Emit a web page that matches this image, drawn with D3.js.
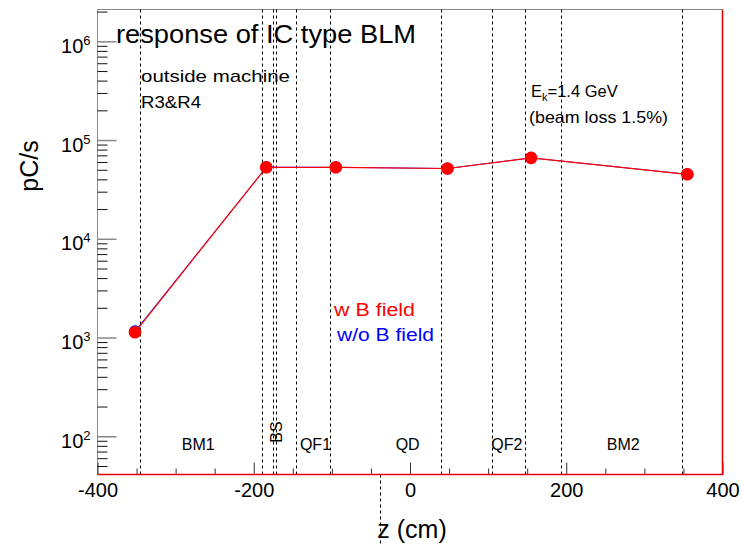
<!doctype html>
<html>
    <head>
        <meta charset="utf-8">
        <title>IC type BLM response</title>
        <script src="https://d3js.org/d3.v7.min.js"></script>
        <style>
            body { margin: 0; background: #fff; }
            text { font-family: "Liberation Sans", Arial, sans-serif; }
        </style>
    </head>

    <body>
        <script>

            // measured points along the beam line
            var zPos = [-352, -184, -95, 48, 155, 355];
            var withField = [1130, 53000, 53000, 51500, 66000, 45000];
            var withoutField = [1160, 53000, 53000, 51500, 66000, 45000];

            // magnet edges (dotted lines) and element names
            var edgePos = [-346, -190, -176, -171, -146, -103, 40, 105, 147, 193, 348];
            var regionNames = ["BM1", "BS", "QF1", "QD", "QF2", "BM2"];
            var regionPos = [-271, -172, -121, -3, 124, 273];

            var xMajor = [-400, -200, 0, 200, 400];
            var yDecades = [1e2, 1e3, 1e4, 1e5, 1e6];

            var width = 742;
            var height = 545;
            var pLeft = 97.5, pRight = 722.5, pTop = 9.5, pBottom = 474.5;

            var x = d3.scaleLinear()
                .domain([-400, 400])
                .range([pLeft, pRight]);

            var y = d3.scaleLog()
                .domain([41, 2.1e6])
                .range([pBottom, pTop]);

            var svg = d3.select("body")
                .append("svg")
                .attr("width", width)
                .attr("height", height);

            // frame: top/left grey, right/bottom red
            svg.append("path")
                .attr("d", "M" + pLeft + "," + pBottom + "V" + pTop + "H" + pRight)
                .attr("fill", "none")
                .attr("stroke", "#888");

            // dotted magnet edges
            svg.selectAll(".edge")
                .data(edgePos)
                .enter().append("line")
                .attr("class", "edge")
                .attr("x1", function(d) { return Math.round(x(d)) + 0.5; })
                .attr("x2", function(d) { return Math.round(x(d)) + 0.5; })
                .attr("y1", pTop)
                .attr("y2", pBottom)
                .attr("stroke", "#000")
                .attr("stroke-dasharray", "3,3");

            // odd dotted line hanging below the axis
            svg.append("line")
                .attr("x1", Math.round(x(-38)) + 0.5)
                .attr("x2", Math.round(x(-38)) + 0.5)
                .attr("y1", pBottom)
                .attr("y2", height)
                .attr("stroke", "#000")
                .attr("stroke-dasharray", "3,3");

            // x axis minor ticks every 50
            var xMinor = d3.range(-400, 401, 50).filter(function(d) { return d % 200 !== 0; });
            svg.append("g")
                .attr("transform", "translate(0," + pBottom + ")")
                .call(d3.axisBottom(x).tickValues(xMinor).tickSize(-6).tickFormat(""))
                .call(function(g) { g.select(".domain").remove(); })
                .selectAll("line").attr("stroke", "#333");

            var xAxis = svg.append("g")
                .attr("transform", "translate(0," + pBottom + ")")
                .call(d3.axisBottom(x).tickValues(xMajor).tickSize(-12).tickPadding(8)
                    .tickFormat(function(d) { return String(d); }));
            xAxis.select(".domain").remove();
            xAxis.selectAll("line").attr("stroke", "#333");
            xAxis.selectAll("text")
                .attr("font-family", "Liberation Sans, Arial, sans-serif")
                .attr("font-size", 20)
                .attr("fill", "#000");

            // y axis minor ticks 2..9 per decade
            var yMinor = [];
            [10, 100, 1000, 10000, 100000, 1000000].forEach(function(dec) {
                for (var k = 2; k <= 9; k++) {
                    var v = dec * k;
                    if (v >= y.domain()[0] && v <= y.domain()[1]) yMinor.push(v);
                }
            });
            svg.append("g")
                .attr("transform", "translate(" + pLeft + ",0)")
                .call(d3.axisLeft(y).tickValues(yMinor).tickSize(-10).tickFormat(""))
                .call(function(g) { g.select(".domain").remove(); })
                .selectAll("line").attr("stroke", "#111");

            var yAxis = svg.append("g")
                .attr("transform", "translate(" + pLeft + ",0)")
                .call(d3.axisLeft(y).tickValues(yDecades).tickSize(-19).tickPadding(7));
            yAxis.select(".domain").remove();
            yAxis.selectAll("line").attr("stroke", "#888").attr("stroke-width", 1.5);
            yAxis.selectAll("text")
                .attr("font-family", "Liberation Sans, Arial, sans-serif")
                .attr("font-size", 20)
                .attr("fill", "#000")
                .attr("dy", "0.55em")
                .each(function(d) {
                    var t = d3.select(this);
                    t.text("10");
                    t.append("tspan")
                        .attr("dy", -8)
                        .attr("font-size", 13)
                        .text(Math.round(Math.log10(d)));
                });

            // red bottom/right frame edges
            svg.append("path")
                .attr("d", "M" + pLeft + "," + pBottom + "H" + pRight + "V" + pTop)
                .attr("fill", "none")
                .attr("stroke", "#e00000")
                .attr("stroke-width", 1.5);

            // series: blue (w/o B field) under red (w B field)
            var line = d3.line()
                .x(function(d, i) { return x(zPos[i]); })
                .y(function(d) { return y(d); });

            svg.append("path")
                .datum(withoutField)
                .attr("d", line)
                .attr("fill", "none")
                .attr("stroke", "#0000ff")
                .attr("stroke-width", 0.8);

            svg.selectAll(".dotB")
                .data(withoutField)
                .enter().append("circle")
                .attr("class", "dotB")
                .attr("cx", function(d, i) { return x(zPos[i]); })
                .attr("cy", function(d) { return y(d); })
                .attr("r", 6)
                .attr("fill", "#0000ff");

            svg.append("path")
                .datum(withField)
                .attr("d", line)
                .attr("fill", "none")
                .attr("stroke", "#ff0000")
                .attr("stroke-width", 1.2);

            svg.selectAll(".dotR")
                .data(withField)
                .enter().append("circle")
                .attr("class", "dotR")
                .attr("cx", function(d, i) { return x(zPos[i]); })
                .attr("cy", function(d) { return y(d); })
                .attr("r", 6.3)
                .attr("fill", "#ff0000");

            // element names at bottom
            svg.selectAll(".region")
                .data(regionNames)
                .enter().append("text")
                .attr("class", "region")
                .attr("text-anchor", "middle")
                .attr("font-size", 16)
                .attr("transform", function(d, i) {
                    if (d === "BS") return "translate(" + (x(regionPos[i]) + 6) + ",432) rotate(-90)";
                    return "translate(" + x(regionPos[i]) + ",450)";
                })
                .text(function(d) { return d; });

            // titles and annotations
            function note(txt, px, py, size, len, color) {
                return svg.append("text")
                    .attr("x", px)
                    .attr("y", py)
                    .attr("font-size", size)
                    .attr("fill", color || "#000")
                    .attr("textLength", len)
                    .attr("lengthAdjust", "spacingAndGlyphs")
                    .text(txt);
            }

            note("response of IC type BLM", 116, 43, 25, 300);
            note("outside machine", 141, 82, 17, 149);
            note("R3&R4", 141, 108, 17, 60);
            note("(beam loss 1.5%)", 529, 123, 16.5, 139);
            note("w B field", 334, 316, 18, 81, "#ff0000");
            note("w/o B field", 337, 341, 18, 97, "#0000ff");

            var ek = svg.append("text")
                .attr("x", 531)
                .attr("y", 97)
                .attr("font-size", 16.5);
            ek.append("tspan").text("E");
            ek.append("tspan").attr("dy", 4).attr("font-size", 11).text("k");
            ek.append("tspan").attr("dy", -4).text("=1.4 GeV");

            svg.append("text")
                .attr("transform", "translate(38,166) rotate(-90)")
                .attr("text-anchor", "middle")
                .attr("font-size", 25)
                .text("pC/s");

            svg.append("text")
                .attr("x", 412)
                .attr("y", 538)
                .attr("text-anchor", "middle")
                .attr("font-size", 25)
                .text("z (cm)");

        </script>
    </body>
</html>
